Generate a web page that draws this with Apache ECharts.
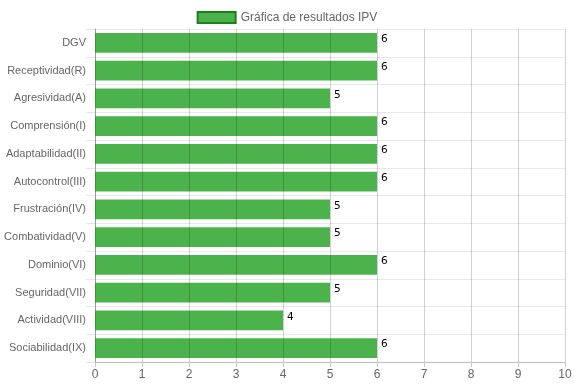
<!DOCTYPE html>
<html>
<head>
<meta charset="utf-8">
<script src="https://cdn.jsdelivr.net/npm/echarts@6/dist/echarts.min.js"></script>
<style>html,body{margin:0;padding:0;background:#fff}#c{width:574px;height:386px}</style>
</head>
<body>
<div id="c"></div>
<script>
const categories = ['DGV','Receptividad(R)','Agresividad(A)','Comprensión(I)','Adaptabilidad(II)','Autocontrol(III)','Frustración(IV)','Combatividad(V)','Dominio(VI)','Seguridad(VII)','Actividad(VIII)','Sociabilidad(IX)'];
const values = [6,6,5,6,6,6,5,5,6,5,4,6];
const seriesName = 'Gráfica de resultados IPV';
const xTicks = [0,1,2,3,4,5,6,7,8,9,10];

const font = '"Liberation Sans", Arial, Helvetica, sans-serif';
const chart = echarts.init(document.getElementById('c'));
chart.setOption({
  animation: false,
  textStyle: { fontFamily: font },
  legend: {
    top: 6, left: 'center',
    icon: 'rect',
    itemWidth: 38, itemHeight: 11, itemGap: 8,
    textStyle: { color: '#666', fontSize: 12, fontFamily: font },
    data: [{ name: seriesName, itemStyle: { color: '#4cb34c', borderColor: '#1e7d1e', borderWidth: 2 } }]
  },
  grid: { left: 95, right: 9, top: 29, bottom: 24, containLabel: false, outerBoundsMode: 'none' },
  xAxis: {
    type: 'value', min: xTicks[0], max: xTicks[xTicks.length-1], interval: 1,
    z: 5,
    axisLine: { show: true, lineStyle: { color: '#bdbdbd' } },
    axisTick: { show: true, length: 5, lineStyle: { color: '#c8c8c8' } },
    axisLabel: { color: '#666', fontSize: 12, margin: 7, fontFamily: font },
    splitLine: { show: true, lineStyle: { color: 'rgba(0,0,0,0.18)' } }
  },
  yAxis: {
    type: 'category', data: categories, inverse: true,
    axisLine: { show: true, lineStyle: { color: '#bdbdbd' } },
    axisTick: { show: true, length: 9, lineStyle: { color: '#e6e6e6' } },
    axisLabel: { color: '#666', fontSize: 11, margin: 9, fontFamily: font },
    splitLine: { show: true, lineStyle: { color: '#e9e9e9' } }
  },
  series: [{
    name: seriesName, type: 'bar', data: values,
    barCategoryGap: '28%',
    itemStyle: { color: '#4cb34c' },
    label: {
      show: true, position: ['100%', 0], align: 'left', verticalAlign: 'top',
      offset: [4, 1], color: '#000', fontSize: 10.5, fontFamily: '"DejaVu Sans", sans-serif'
    }
  }]
});
</script>
</body>
</html>
